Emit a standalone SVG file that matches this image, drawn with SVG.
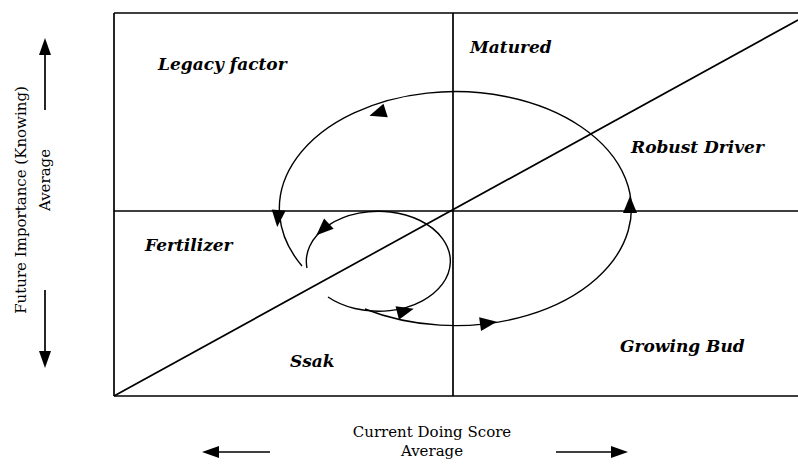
<svg xmlns="http://www.w3.org/2000/svg" width="798" height="464" viewBox="0 0 798 464">
  <style>
    .ln { stroke: #000; stroke-width: 1.7; fill: none; }
    .cv { stroke: #000; stroke-width: 1.4; fill: none; }
    .lbl { font-family: "DejaVu Serif", "Liberation Serif", serif; font-weight: bold; font-style: italic; font-size: 17px; fill: #000; }
    .ax { font-family: "DejaVu Serif", "Liberation Serif", serif; font-size: 15px; fill: #000; }
  </style>
  <defs>
    <polygon id="ah" points="9,0 -8,-7 -8,7" fill="#000"/>
  </defs>
  <g id="frame">
    <path class="ln" d="M114 13 H798 M114 13 V396 M114 396 H798"/>
    <path class="ln" d="M453 13 V396 M114 211 H798"/>
    <path class="ln" d="M114 396 L798 20"/>
  </g>
  <g id="connectors">
    <path class="cv" d="M365 309 A176 117 0 1 0 302 266"/>
    <path class="cv" d="M328 297 A72 50 0 1 0 307 268"/>
    <use href="#ah" transform="translate(488,323) rotate(-8)"/>
    <use href="#ah" transform="translate(630,205) rotate(-90)"/>
    <use href="#ah" transform="translate(378,113) rotate(162)"/>
    <use href="#ah" transform="translate(278,218) rotate(95)"/>
    <use href="#ah" transform="translate(323,229) rotate(137)"/>
    <use href="#ah" transform="translate(405,311) rotate(-14)"/>
  </g>
  <g id="legacy"><text class="lbl" x="158" y="70">Legacy factor</text></g>
  <g id="matured"><text class="lbl" x="470" y="53">Matured</text></g>
  <g id="robust"><text class="lbl" x="631" y="153">Robust Driver</text></g>
  <g id="fertilizer"><text class="lbl" x="145" y="251">Fertilizer</text></g>
  <g id="ssak"><text class="lbl" x="290" y="367">Ssak</text></g>
  <g id="growing"><text class="lbl" x="620" y="352">Growing Bud</text></g>
  <g id="y-axis">
    <text class="ax" transform="translate(26,200) rotate(-90)" text-anchor="middle" font-size="16">Future Importance (Knowing)</text>
    <text class="ax" transform="translate(50,180) rotate(-90)" text-anchor="middle">Average</text>
    <path class="ln" d="M45 110 V52"/>
    <polygon points="45,38 39,55 51,55" fill="#000"/>
    <path class="ln" d="M45 290 V352"/>
    <polygon points="45,368 39,351 51,351" fill="#000"/>
  </g>
  <g id="x-axis">
    <text class="ax" x="432" y="437" text-anchor="middle">Current Doing Score</text>
    <text class="ax" x="432" y="456" text-anchor="middle">Average</text>
    <path class="ln" d="M270 452 H216"/>
    <polygon points="202,452 219,446 219,458" fill="#000"/>
    <path class="ln" d="M556 452 H614"/>
    <polygon points="628,452 611,446 611,458" fill="#000"/>
  </g>
</svg>
